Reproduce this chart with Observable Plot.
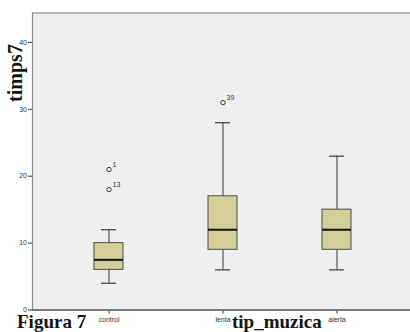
<!DOCTYPE html>
<html>
<head>
<meta charset="utf-8">
<script src="https://cdn.jsdelivr.net/npm/d3@7"></script>
<script src="https://cdn.jsdelivr.net/npm/@observablehq/plot@0.6"></script>
<style>
  html, body { margin: 0; padding: 0; background: #fff; }
  #chart { width: 410px; height: 332px; overflow: hidden; }
</style>
</head>
<body>
<div id="chart"></div>
<script>
const categories = ["control", "lenta", "alerta"];
const whiskerLow = [4, 6, 6];
const q1 = [6, 9, 9];
const median = [7.5, 12, 12];
const q3 = [10, 17, 15];
const whiskerHigh = [12, 28, 23];
const outlierCat = ["control", "control", "lenta"];
const outlierValue = [21, 18, 31];
const outlierLabel = ["1", "13", "39"];
const yTicks = [0, 10, 20, 30, 40];
const yMax = 44.4;

const boxes = categories.map((c, i) => ({cat: c, lo: whiskerLow[i], q1: q1[i], med: median[i], q3: q3[i], hi: whiskerHigh[i]}));
const outliers = outlierCat.map((c, i) => ({cat: c, value: outlierValue[i], label: outlierLabel[i]}));

const plot = Plot.plot({
  width: 410,
  height: 332,
  marginLeft: 32,
  marginRight: -3,
  marginTop: 12.5,
  marginBottom: 22.5,
  style: {fontFamily: "Liberation Sans, Arial, sans-serif", fontSize: "7px", color: "#333", background: "transparent"},
  x: {domain: categories, paddingInner: 0.747, paddingOuter: 0.535, tickSize: 4, tickPadding: 3, label: null},
  y: {domain: [0, yMax], ticks: yTicks, tickSize: 4, tickPadding: 1.5, label: null},
  marks: [
    Plot.frame({fill: "#efefef", stroke: "#8c8c8c", strokeWidth: 1.2}),
    Plot.ruleY([0], {stroke: "#777", strokeWidth: 2}),
    Plot.ruleX(boxes, {x: "cat", y1: "lo", y2: "q1", stroke: "#3a3a3a", strokeWidth: 1}),
    Plot.ruleX(boxes, {x: "cat", y1: "q3", y2: "hi", stroke: "#3a3a3a", strokeWidth: 1}),
    Plot.tickY(boxes, {x: "cat", y: "lo", stroke: "#3a3a3a", strokeWidth: 1.2, insetLeft: 7, insetRight: 7}),
    Plot.tickY(boxes, {x: "cat", y: "hi", stroke: "#3a3a3a", strokeWidth: 1.2, insetLeft: 7, insetRight: 7}),
    Plot.barY(boxes, {x: "cat", y1: "q1", y2: "q3", fill: "#d4cf98", stroke: "#4a4a4a", strokeWidth: 1}),
    Plot.tickY(boxes, {x: "cat", y: "med", stroke: "#111", strokeWidth: 2}),
    Plot.dot(outliers, {x: "cat", y: "value", r: 2.2, stroke: "#3a3a3a", strokeWidth: 1, fill: "none"}),
    Plot.text(outliers, {x: "cat", y: "value", text: "label", dx: 3.5, dy: -5, textAnchor: "start", fontSize: 7, fill: "#333"})
  ]
});

document.getElementById("chart").appendChild(plot);

const svg = d3.select(plot);
svg.append("text")
  .attr("transform", "translate(22,73) rotate(-90)")
  .attr("text-anchor", "middle")
  .attr("font-family", "Liberation Serif, Times New Roman, serif")
  .attr("font-weight", "bold")
  .attr("font-size", 20)
  .attr("fill", "#141414")
  .text("timps7");
svg.append("text")
  .attr("x", 17).attr("y", 328)
  .attr("text-anchor", "start")
  .attr("font-family", "Liberation Serif, Times New Roman, serif")
  .attr("font-weight", "bold")
  .attr("font-size", 19)
  .attr("fill", "#141414")
  .text("Figura 7");
svg.append("text")
  .attr("x", 232).attr("y", 327.5)
  .attr("text-anchor", "start")
  .attr("font-family", "Liberation Serif, Times New Roman, serif")
  .attr("font-weight", "bold")
  .attr("font-size", 19)
  .attr("fill", "#141414")
  .text("tip_muzica");
</script>
</body>
</html>
